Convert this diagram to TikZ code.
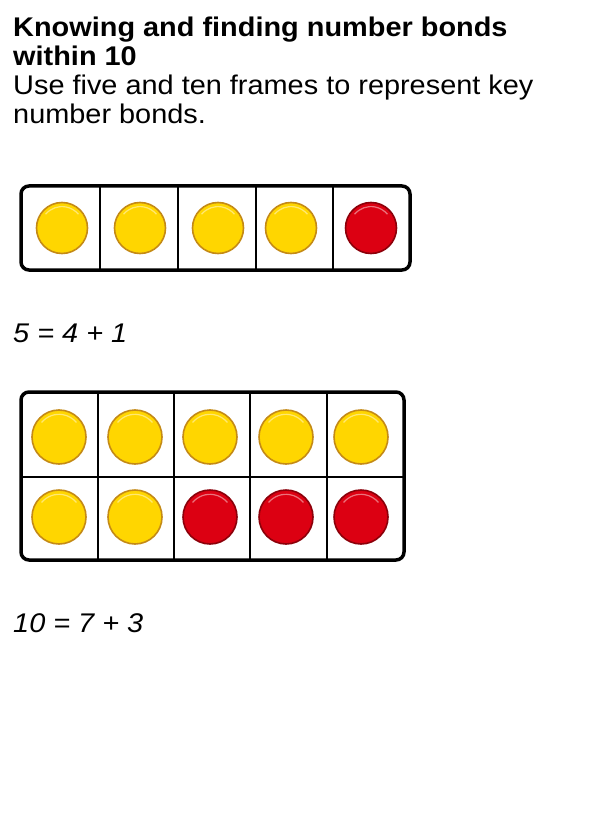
\documentclass[tikz,border=0pt]{standalone}
\usepackage{fontspec}
\setmainfont{Liberation Sans}[FakeStretch=1.07]
\usepackage{xcolor}
\usetikzlibrary{positioning}
\definecolor{counteryellow}{RGB}{255,214,0}
\definecolor{yellowrim}{RGB}{196,138,22}
\definecolor{counterred}{RGB}{220,0,18}
\definecolor{redrim}{RGB}{140,0,10}
\tikzset{
  heading/.style={anchor=base west, inner sep=0pt, font=\fontsize{27}{29}\selectfont\bfseries},
  bodytext/.style={anchor=base west, inner sep=0pt, font=\fontsize{27}{29}\selectfont},
  bondtext/.style={anchor=base west, inner sep=0pt, font=\fontsize{27}{29}\selectfont\itshape},
  frame/.style={draw, line width=3.5pt, rounded corners=8pt},
  divider/.style={draw, line width=1.3pt},
  counter/.style={circle, inner sep=0pt, line width=1.6pt,
    path picture={\draw[white, opacity=0.45, line width=1.2pt]
      (path picture bounding box.center) ++(140:0.42*\pgfkeysvalueof{/pgf/minimum width})
      arc[start angle=140, end angle=40, radius=0.42*\pgfkeysvalueof{/pgf/minimum width}];}},
  yellow counter/.style={counter, fill=counteryellow, draw=yellowrim},
  red counter/.style={counter, fill=counterred, draw=redrim},
}
\begin{document}
\begin{tikzpicture}[x=1pt, y=-1pt]
  \useasboundingbox (0,0) rectangle (596,818);
  % text
  \node[heading] (title1) at (13,37) {Knowing and finding number bonds};
  \node[heading] (title2) at (13,66) {within 10};
  \node[bodytext] (intro1) at (13,95) {Use five and ten frames to represent key};
  \node[bodytext] (intro2) at (13,124) {number bonds.};

  % five frame
  \foreach \x in {100,178,256,333} \draw[divider] (\x,186) -- (\x,270);
  \draw[frame] (21,186) rectangle (410,270);
  \foreach \x [count=\i] in {62,140,218,291}
    \node[yellow counter, minimum size=51pt] (five\i) at (\x,228) {};
  \node[red counter, minimum size=51pt] (five5) at (371,228) {};
  \node[bondtext] (bond5) at (13,342) {5 = 4 + 1};

  % ten frame
  \draw[divider] (21,477) -- (404,477);
  \foreach \x in {98,174,250,327} \draw[divider] (\x,392) -- (\x,560);
  \draw[frame] (21,392) rectangle (404,560);
  \foreach \x [count=\i] in {59,135,210,286,361}
    \node[yellow counter, minimum size=54pt] (topcell\i) at (\x,437) {};
  \foreach \x [count=\i] in {59,135}
    \node[yellow counter, minimum size=54pt] (bottomcell\i) at (\x,517) {};
  \foreach \x [count=\i from 3] in {210,286,361}
    \node[red counter, minimum size=54pt] (bottomcell\i) at (\x,517) {};
  \node[bondtext] (bond10) at (13,632) {10 = 7 + 3};
\end{tikzpicture}
\end{document}
